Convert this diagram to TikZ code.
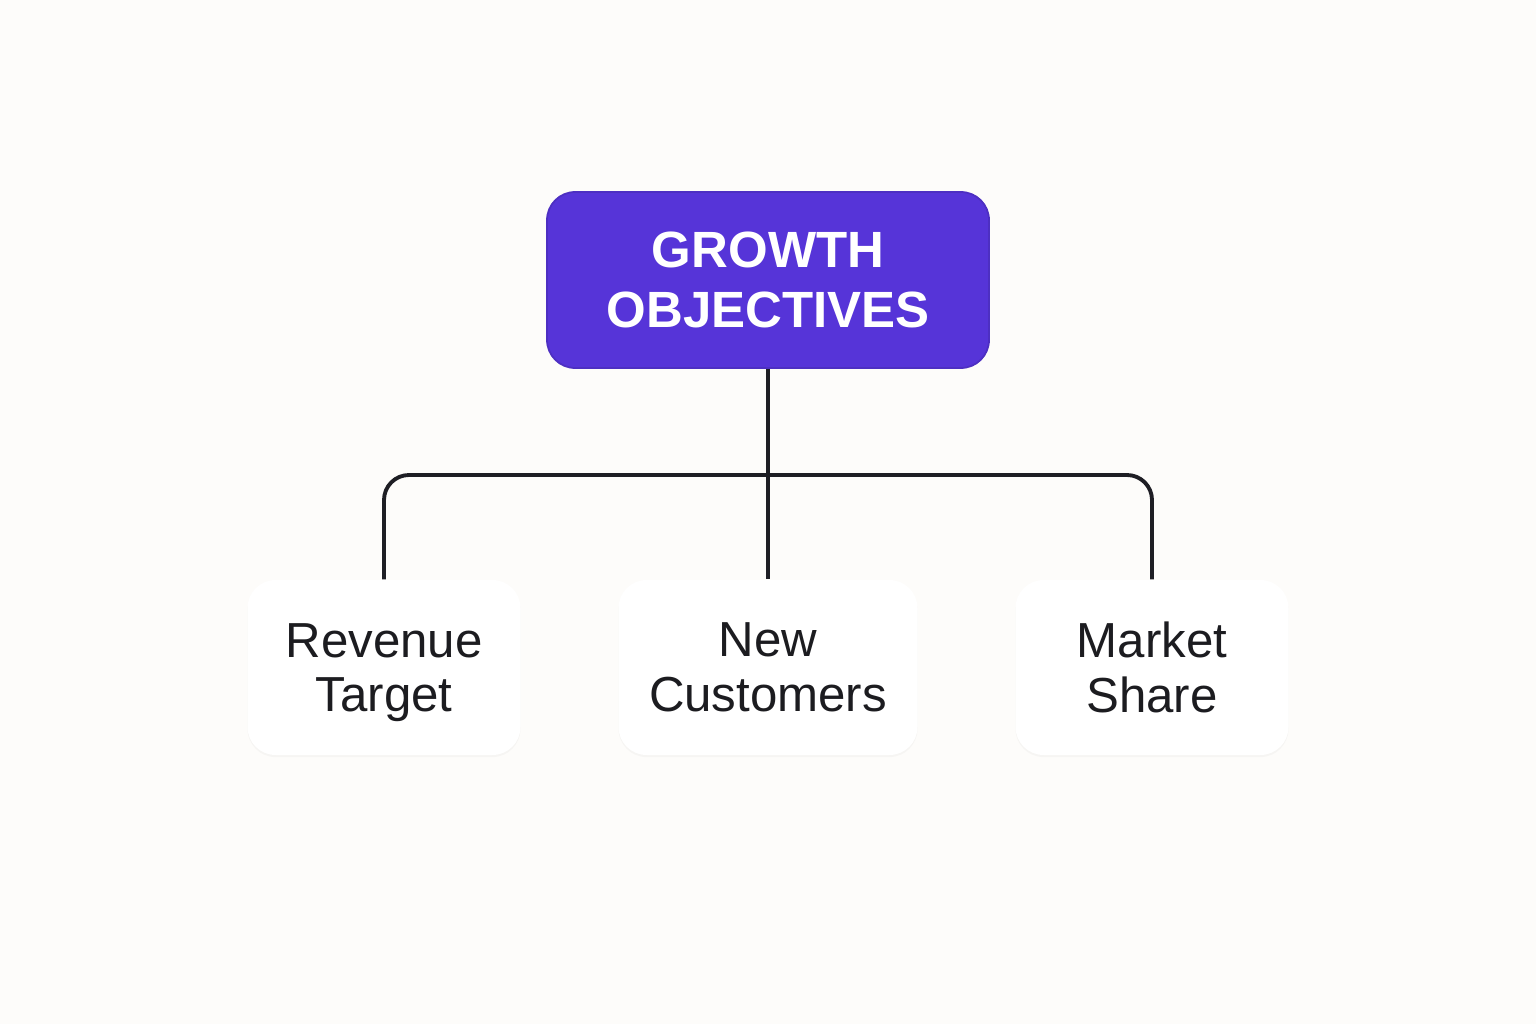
\documentclass[tikz,border=0pt]{standalone}
\usepackage{fontspec}
\setmainfont{Liberation Sans}
\usepackage{tikz}
\usetikzlibrary{positioning,calc,shadows}
\definecolor{gobjviolet}{RGB}{86,52,216}
\definecolor{gobjfond}{RGB}{253,252,250}
\definecolor{gobjtrait}{RGB}{30,30,36}
\definecolor{gobjtexte}{RGB}{28,28,32}
\tikzset{
  objbox/.style={
    rectangle, rounded corners=8pt, fill=gobjviolet, draw=gobjviolet!90!black,
    line width=0.5pt, minimum width=4.42cm, minimum height=1.76cm,
    align=center, text=white,
    font=\fontsize{14.5}{17.3}\selectfont\bfseries
  },
  subbox/.style={
    rectangle, rounded corners=8pt, fill=white, draw=none,
    minimum width=2.73cm, minimum height=1.75cm, align=center,
    text=gobjtexte, font=\fontsize{14}{15.6}\selectfont,
    drop shadow={opacity=0.05, shadow xshift=0pt, shadow yshift=-0.6pt}
  },
  bustrait/.style={gobjtrait, line width=1.1pt}
}

\begin{document}
\begin{tikzpicture}
  \fill[gobjfond] (0,0) rectangle (15.36,10.24);
  \useasboundingbox (0,0) rectangle (15.36,10.24);
  \node[objbox] (growth) at (7.68,7.44) {GROWTH\\OBJECTIVES};
  \node[subbox] (revenue) at (3.84,3.565) {Revenue\\\smash{Target}};
  \node[subbox, minimum width=2.99cm] (customers) at (7.68,3.565) {New\\Customers};
  \node[subbox] (market) at (11.52,3.565) {Market\\Share};
  \coordinate (bus) at (7.68,5.49);
  \draw[bustrait] (growth.south) -- (customers.north);
  \draw[bustrait, rounded corners=0.25cm] (bus) -| (revenue.north);
  \draw[bustrait, rounded corners=0.25cm] (bus) -| (market.north);
\end{tikzpicture}
\end{document}
